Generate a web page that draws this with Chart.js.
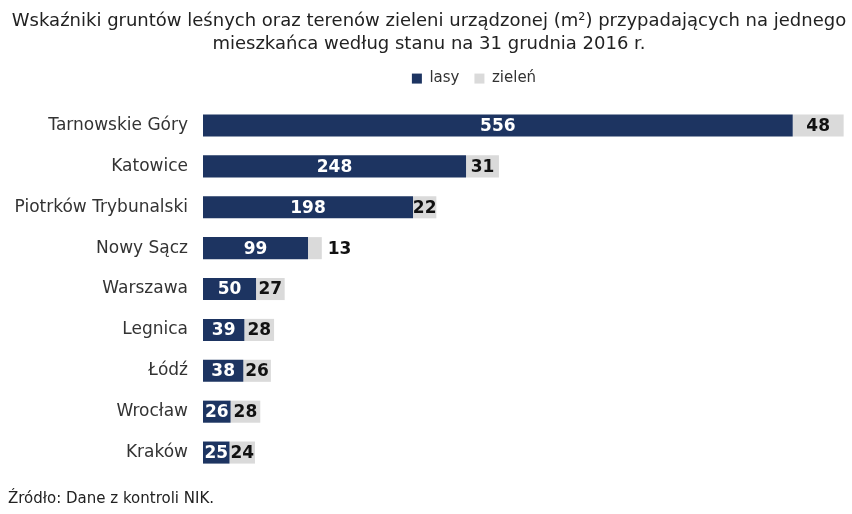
<!DOCTYPE html>
<html>
<head>
<meta charset="utf-8">
<script src="https://cdn.jsdelivr.net/npm/chart.js@4"></script>
<style>
  html, body { margin: 0; padding: 0; background: #fff; }
  #wrap { width: 852px; height: 514px; }
</style>
</head>
<body>
<div id="wrap"><canvas id="forest_chart" width="852" height="514"></canvas></div>
<script>
const cities = ['Tarnowskie Góry', 'Katowice', 'Piotrków Trybunalski', 'Nowy Sącz', 'Warszawa', 'Legnica', 'Łódź', 'Wrocław', 'Kraków'];
const lasy = [556, 248, 198, 99, 50, 39, 38, 26, 25];
const zielen = [48, 31, 22, 13, 27, 28, 26, 28, 24];

const titleLines = [
    'Wskaźniki gruntów leśnych oraz terenów zieleni urządzonej (m²) przypadających na jednego',
    'mieszkańca według stanu na 31 grudnia 2016 r.'
];
const sourceNote = 'Źródło: Dane z kontroli NIK.';

const font = '"DejaVu Sans", Verdana, sans-serif';

// value labels: centred in the bar, pushed to the right if it does not fit
const barLabels = {
    id: 'barLabels',
    afterDatasetsDraw(chart) {
        const ctx = chart.ctx;
        ctx.save();
        ctx.font = 'bold 17px ' + font;
        ctx.textBaseline = 'middle';
        chart.data.datasets.forEach((ds, i) => {
            const meta = chart.getDatasetMeta(i);
            meta.data.forEach((bar, j) => {
                const txt = String(ds.data[j]);
                const w = ctx.measureText(txt).width;
                const left = Math.min(bar.base, bar.x);
                const right = Math.max(bar.base, bar.x);
                ctx.fillStyle = i === 0 ? '#ffffff' : '#111111';
                if (w <= right - left + 2) {
                    ctx.textAlign = 'center';
                    ctx.fillText(txt, (left + right) / 2, bar.y + 1);
                } else {
                    ctx.textAlign = 'left';
                    ctx.fillText(txt, right + 6, bar.y + 1);
                }
            });
        });
        ctx.restore();
    }
};

// the legend sits a bit right of centre and close under the title in the original
const legendShift = {
    id: 'legendShift',
    afterLayout(chart) {
        chart.legend.left += 45;
        chart.legend.right += 45;
        chart.legend.top -= 9;
        chart.legend.bottom -= 9;
    }
};

const ctx = document.getElementById('forest_chart').getContext('2d');

new Chart(ctx, {
    type: 'bar',
    data: {
        labels: cities,
        datasets: [
            { label: 'lasy', data: lasy, backgroundColor: '#1d3461', borderWidth: 0 },
            { label: 'zieleń', data: zielen, backgroundColor: '#dadada', borderWidth: 0 }
        ]
    },
    options: {
        indexAxis: 'y',
        responsive: false,
        animation: false,
        layout: { padding: { left: 8, right: 2, top: 8, bottom: 6 } },
        datasets: {
            bar: { categoryPercentage: 1, barPercentage: 0.54 }
        },
        scales: {
            x: {
                stacked: true,
                min: 0,
                max: 610,
                display: false
            },
            y: {
                stacked: true,
                grid: { display: false, drawTicks: false },
                border: { display: false },
                afterFit: s => { s.width = 195; },
                ticks: {
                    color: '#333333',
                    padding: 15,
                    font: { family: font, size: 17 }
                }
            }
        },
        plugins: {
            title: {
                display: true,
                text: titleLines,
                color: '#222222',
                font: { family: font, size: 18, weight: 'normal', lineHeight: 1.28 },
                padding: { top: 2, bottom: 9 }
            },
            legend: {
                display: true,
                labels: {
                    color: '#333333',
                    boxWidth: 10,
                    boxHeight: 10,
                    padding: 15,
                    font: { family: font, size: 15 }
                }
            },
            subtitle: {
                display: true,
                position: 'bottom',
                align: 'start',
                text: sourceNote,
                color: '#222222',
                font: { family: font, size: 15 },
                padding: { top: 17, bottom: 0 }
            },
            tooltip: { enabled: false }
        }
    },
    plugins: [barLabels, legendShift]
});
</script>
</body>
</html>
